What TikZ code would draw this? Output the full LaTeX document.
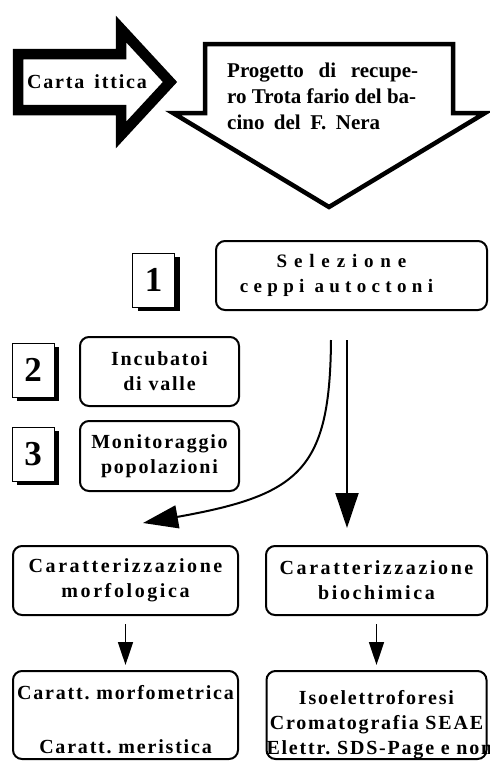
\documentclass[tikz,border=0pt]{standalone}
\usepackage{fontspec}
\setmainfont{Liberation Serif}
\newfontfamily\boxfont[LetterSpace=9]{Liberation Serif}
\newfontfamily\headfont[LetterSpace=13]{Liberation Serif}
\newfontfamily\selfont[LetterSpace=28]{Liberation Serif}
\usetikzlibrary{arrows.meta,shadows}

\tikzset{
  bigarrow/.style={draw,fill=white,line join=miter},
  roundbox/.style={draw,line width=2pt,rounded corners=9pt,align=center,inner sep=0pt,
    font={\boxfont\bfseries\fontsize{20}{25}\selectfont}},
  numbox/.style={draw,fill=white,line width=0.8pt,minimum width=42pt,minimum height=54pt,inner sep=0pt,
    font={\bfseries\fontsize{35}{35}\selectfont},
    drop shadow={shadow xshift=5pt,shadow yshift=-4pt,fill=black,opacity=1}},
  flow/.style={line width=2pt,-{Triangle[length=35pt,width=23pt]}},
  smallflow/.style={line width=1.5pt,-{Triangle[length=23pt,width=15pt]}}
}

\begin{document}
\begin{tikzpicture}[x=1pt,y=-1pt]
\useasboundingbox (0,0) rectangle (490,761);

% the two big arrows on top
\draw[bigarrow,line width=10.5pt] (18,54) -- (121,54) -- (121,29) -- (170,82)
  -- (121,135) -- (121,110) -- (18,110) -- cycle;
\draw[bigarrow,line width=4.5pt] (205,44) -- (453,44) -- (453,113) -- (485,113)
  -- (329,207) -- (173,113) -- (205,113) -- cycle;
\node[font={\boxfont\bfseries\fontsize{20}{24}\selectfont}] (carta) at (87,82) {Carta\, ittica};
\node[align=left,anchor=west,inner sep=0pt,font={\bfseries\fontsize{21}{26}\selectfont}] (progetto) at (227,96)
  {\makebox[191pt][s]{Progetto di recupe-}\\ro Trota fario del ba-\\\makebox[153pt][s]{cino del F. Nera}};

% numbered steps
\node[numbox] (n1) at (153.5,280) {1};
\node[numbox] (n2) at (33,370) {2};
\node[numbox] (n3) at (33,454) {3};

\node[roundbox,minimum width=271pt,minimum height=69pt,
  font={\selfont\bfseries\fontsize{19}{25}\selectfont}] (sel) at (351.5,275.5)
  {{\addfontfeature{LetterSpace=36}Selezione}\hspace*{20pt}\\ceppi\ autoctoni\hspace*{30pt}};
\node[roundbox,minimum width=159pt,minimum height=69pt] (inc) at (159.5,371.5) {Incubatoi\\di\ valle};
\node[roundbox,minimum width=159pt,minimum height=70pt] (mon) at (159.5,456) {Monitoraggio\\popolazioni};

\node[roundbox,minimum width=225pt,minimum height=69pt,
  font={\headfont\bfseries\fontsize{20}{25}\selectfont}] (morf) at (125.5,580.5) {Caratterizzazione\\morfologica};
\node[roundbox,minimum width=221pt,minimum height=69pt,
  font={\headfont\bfseries\fontsize{20}{25}\selectfont}] (bio) at (376.5,580.5) {Caratterizzazione\\biochimica};
\node[roundbox,minimum width=225pt,minimum height=88pt,
  font={\boxfont\bfseries\fontsize{20}{27}\selectfont}] (morfdet) at (125.5,715)
  {\rule{0pt}{24pt}Caratt.\ morfometrica\\[27pt]Caratt.\ meristica};
\begin{scope}
\clip (250,650) rectangle (489,761);
\node[roundbox,text width=220pt,minimum height=88pt] (biodet) at (376.5,715)
  {\rule{0pt}{33pt}Isoelettroforesi\\Cromatografia\ SEAE\\\mbox{Elettr.\ SDS-Page\ e\ non}};
\end{scope}

% connectors
\coordinate (selout1) at (331,340);
\coordinate (selout2) at (347,340);
\coordinate (morfin) at (143,523);
\coordinate (bioin) at (347,528);
\draw[flow] (selout1) .. controls (330,470) and (300,495) .. (morfin);
\draw[flow] (selout2) -- (bioin);
\draw[smallflow,shorten <=8pt,shorten >=5pt] (morf.south) -- (morfdet.north);
\draw[smallflow,shorten <=8pt,shorten >=5pt] (bio.south) -- (biodet.north);
\end{tikzpicture}
\end{document}
